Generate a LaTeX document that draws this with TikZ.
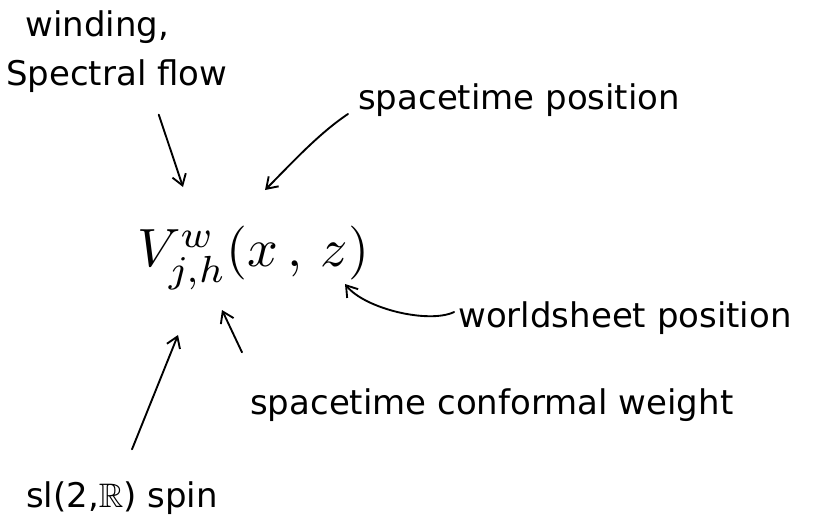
\documentclass[tikz,border=0pt]{standalone}
\usepackage{amsmath, amssymb}
\usepackage{fontspec}
\setmainfont{DejaVu Sans}
\usetikzlibrary{calc, arrows.meta, positioning}

\begin{document}
\begin{tikzpicture}[x=0.03cm, y=-0.03cm, >={Straight Barb[length=9pt, width=12pt]},
    note/.style={font=\fontsize{29}{34}\selectfont, inner sep=0pt},
    hand/.style={line width=1.6pt, line cap=round, ->}]
    \useasboundingbox (0,0) rectangle (838,528);

    % operator in the middle
    \node[inner sep=0pt, scale=4.6] (vop) at (253,258)
        {$V^{w}_{j,h}(x\,,\,z)$};

    % labels
    \node[note, anchor=west] (wind) at (25,27) {winding,};
    \node[note, anchor=west] (flow) at (6,76) {Spectral flow};
    \node[note, anchor=west] (stpos) at (358,100) {spacetime position};
    \node[note] (wspos) at (625,318) {worldsheet position};
    \node[note, anchor=west] (weight) at (250,405) {spacetime conformal weight};
    \node[note] (spin) at (122,498) {sl(2,$\mathbb{R}$) spin};

    % arrow tips near the operator
    \coordinate (tipw) at (183,187);
    \coordinate (tipx) at (265,190);
    \coordinate (tipz) at (345,284);
    \coordinate (tiph) at (222,310);
    \coordinate (tipj) at (178,335);

    \draw[hand] ($(flow.south)+(42,22)$) -- (tipw);
    \draw[hand] ($(stpos.west)+(-10,14)$) .. controls +(-30,20) and +(25,-25) .. (tipx);
    \draw[hand] ($(wspos.west)+(-4,-6)$) .. controls +(-25,12) and +(20,25) .. (tipz);
    \draw[hand] ($(weight.north west)+(-8,-36)$) -- (tiph);
    \draw[hand] ($(spin.north)+(10,-32)$) -- (tipj);
\end{tikzpicture}
\end{document}
